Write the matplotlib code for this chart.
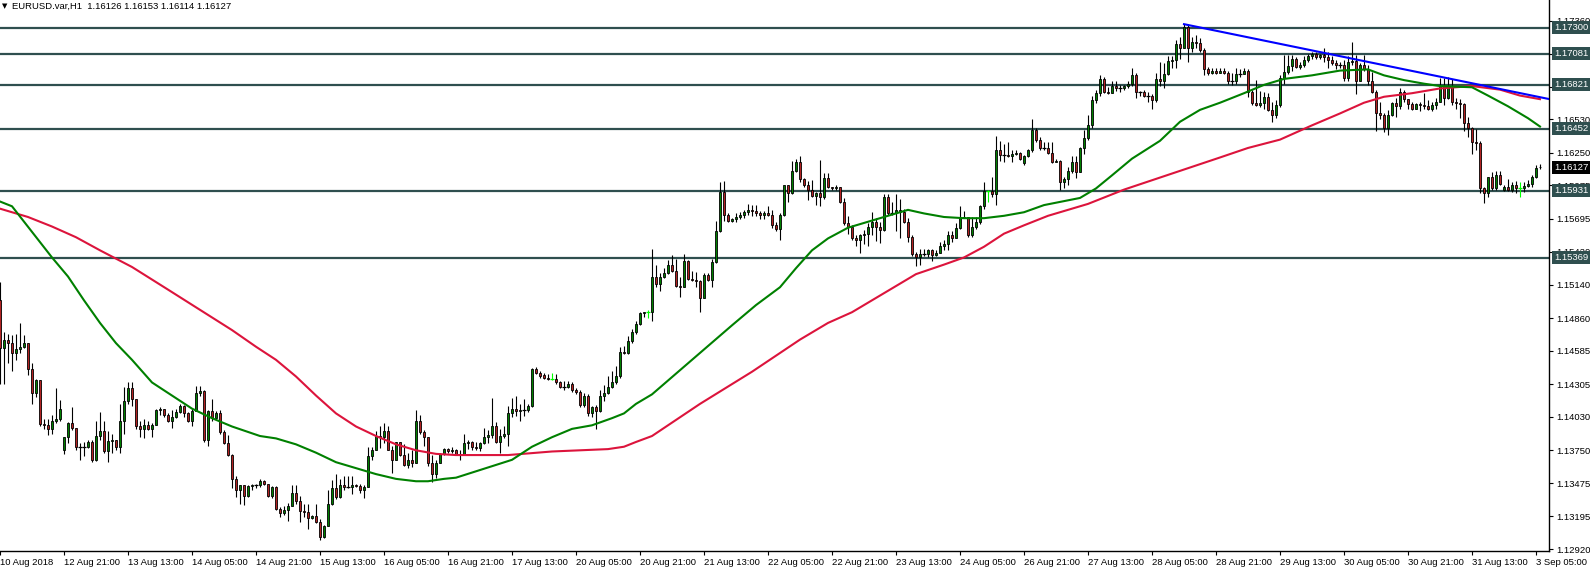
import numpy as np
import matplotlib.pyplot as plt
from matplotlib.transforms import blended_transform_factory

plt.rcParams['font.family'] = ['Liberation Sans', 'DejaVu Sans']

# EURUSD H1 свечи (k = номер бара слева направо)
closes = [
    1.1461, 1.1468, 1.1465, 1.1457, 1.1460, 1.1462, 1.1465, 1.1443, 1.1423, 1.1434,
    1.1397, 1.1396, 1.1393, 1.1400, 1.1401, 1.1410, 1.1386, 1.1398, 1.1394, 1.1378,
    1.1378, 1.1378, 1.1382, 1.1367, 1.1387, 1.1391, 1.1374, 1.1383, 1.1384, 1.1378,
    1.1400, 1.1416, 1.1427, 1.1418, 1.1395, 1.1393, 1.1396, 1.1393, 1.1396, 1.1409,
    1.1410, 1.1405, 1.1400, 1.1403, 1.1407, 1.1412, 1.1406, 1.1400, 1.1408, 1.1423,
    1.1425, 1.1384, 1.1408, 1.1402, 1.1406, 1.1390, 1.1381, 1.1371, 1.1351, 1.1342,
    1.1346, 1.1337, 1.1345, 1.1346, 1.1346, 1.1349, 1.1347, 1.1337, 1.1344, 1.1326,
    1.1322, 1.1325, 1.1328, 1.1339, 1.1332, 1.1324, 1.1323, 1.1318, 1.1320, 1.1315,
    1.1302, 1.1311, 1.1330, 1.1343, 1.1336, 1.1346, 1.1344, 1.1344, 1.1346, 1.1345,
    1.1342, 1.1344, 1.1370, 1.1375, 1.1387, 1.1386, 1.1391, 1.1375, 1.1367, 1.1382,
    1.1371, 1.1363, 1.1367, 1.1364, 1.1400, 1.1390, 1.1386, 1.1364, 1.1355, 1.1364,
    1.1372, 1.1376, 1.1374, 1.1375, 1.1372, 1.1371, 1.1381, 1.1382, 1.1378, 1.1377,
    1.1381, 1.1386, 1.1388, 1.1395, 1.1382, 1.1387, 1.1389, 1.1406, 1.1410, 1.1408,
    1.1409, 1.1409, 1.1412, 1.1443, 1.1440, 1.1437, 1.1436, 1.1435, 1.1435, 1.1432,
    1.1428, 1.1428, 1.1431, 1.1426, 1.1424, 1.1413, 1.1421, 1.1406, 1.1411, 1.1408,
    1.1421, 1.1423, 1.1428, 1.1432, 1.1437, 1.1458, 1.1457, 1.1467, 1.1474, 1.1481,
    1.1490, 1.1491, 1.1491, 1.1521, 1.1515, 1.1521, 1.1524, 1.1531, 1.1526, 1.1513,
    1.1512, 1.1534, 1.1519, 1.1518, 1.1517, 1.1503, 1.1522, 1.1518, 1.1533, 1.1559,
    1.1592, 1.1573, 1.1568, 1.1569, 1.1571, 1.1573, 1.1575, 1.1577, 1.1576, 1.1574,
    1.1573, 1.1574, 1.1573, 1.1564, 1.1561, 1.1573, 1.1598, 1.1591, 1.1610, 1.1617,
    1.1603, 1.1598, 1.1594, 1.1589, 1.1591, 1.1588, 1.1604, 1.1596, 1.1595, 1.1596,
    1.1584, 1.1566, 1.1563, 1.1553, 1.1552, 1.1556, 1.1557, 1.1563, 1.1567, 1.1563,
    1.1560, 1.1588, 1.1574, 1.1574, 1.1577, 1.1575, 1.1567, 1.1554, 1.1540, 1.1537,
    1.1540, 1.1540, 1.1543, 1.1539, 1.1541, 1.1547, 1.1548, 1.1556, 1.1553, 1.1562,
    1.1570, 1.1571, 1.1556, 1.1563, 1.1567, 1.1580, 1.1593, 1.1593, 1.1590, 1.1627,
    1.1623, 1.1623, 1.1622, 1.1624, 1.1625, 1.1620, 1.1622, 1.1627, 1.1644, 1.1636,
    1.1629, 1.1629, 1.1625, 1.1617, 1.1618, 1.1600, 1.1603, 1.1610, 1.1617, 1.1609,
    1.1629, 1.1637, 1.1648, 1.1669, 1.1675, 1.1687, 1.1676, 1.1675, 1.1681, 1.1679,
    1.1679, 1.1681, 1.1683, 1.1690, 1.1676, 1.1676, 1.1673, 1.1673, 1.1669, 1.1687,
    1.1685, 1.1691, 1.1702, 1.1703, 1.1716, 1.1713, 1.1731, 1.1713, 1.1718, 1.1717,
    1.1711, 1.1695, 1.1692, 1.1694, 1.1692, 1.1694, 1.1692, 1.1685, 1.1685, 1.1691,
    1.1691, 1.1694, 1.1676, 1.1667, 1.1665, 1.1667, 1.1672, 1.1661, 1.1657, 1.1665,
    1.1688, 1.1693, 1.1698, 1.1704, 1.1697, 1.1699, 1.1703, 1.1706, 1.1708, 1.1705,
    1.1707, 1.1705, 1.1703, 1.1700, 1.1699, 1.1699, 1.1688, 1.1701, 1.1702, 1.1685,
    1.1699, 1.1695, 1.1685, 1.1676, 1.1658, 1.1657, 1.1646, 1.1657, 1.1667, 1.1664,
    1.1676, 1.1670, 1.1666, 1.1662, 1.1666, 1.1665, 1.1664, 1.1662, 1.1665, 1.1668,
    1.1681, 1.1671, 1.1681, 1.1668, 1.1667, 1.1666, 1.1650, 1.1646, 1.1634, 1.1633,
    1.1595, 1.1591, 1.1605, 1.1595, 1.1606, 1.1599, 1.1596, 1.1594, 1.1598, 1.1595,
    1.1595, 1.1597, 1.1599, 1.1605, 1.1612, 1.16127,
]
highs = [
    1.1516, 1.1474, 1.1473, 1.1472, 1.1473, 1.1482, 1.1472, 1.1464, 1.1448, 1.1435,
    1.1434, 1.1401, 1.1401, 1.1405, 1.1427, 1.1417, 1.1386, 1.1399, 1.1411, 1.1394,
    1.1381, 1.1382, 1.1384, 1.1384, 1.1400, 1.1407, 1.1400, 1.1391, 1.1389, 1.1384,
    1.1414, 1.1428, 1.1432, 1.1432, 1.1418, 1.1400, 1.1401, 1.1400, 1.1398, 1.1410,
    1.1411, 1.1406, 1.1406, 1.1409, 1.1410, 1.1414, 1.1413, 1.1407, 1.1410, 1.1429,
    1.1429, 1.1426, 1.1409, 1.1418, 1.1408, 1.1409, 1.1392, 1.1388, 1.1372, 1.1353,
    1.1346, 1.1346, 1.1346, 1.1347, 1.1347, 1.1351, 1.1350, 1.1347, 1.1345, 1.1345,
    1.1327, 1.1328, 1.1331, 1.1346, 1.1346, 1.1337, 1.1330, 1.1330, 1.1321, 1.1330,
    1.1317, 1.1312, 1.1342, 1.1350, 1.1355, 1.1351, 1.1353, 1.1353, 1.1353, 1.1347,
    1.1347, 1.1346, 1.1378, 1.1378, 1.1391, 1.1395, 1.1398, 1.1395, 1.1379, 1.1382,
    1.1382, 1.1380, 1.1373, 1.1375, 1.1409, 1.1405, 1.1392, 1.1386, 1.1371, 1.1367,
    1.1373, 1.1377, 1.1377, 1.1378, 1.1376, 1.1375, 1.1389, 1.1384, 1.1383, 1.1382,
    1.1382, 1.1394, 1.1392, 1.1419, 1.1399, 1.1393, 1.1395, 1.1412, 1.1419, 1.1421,
    1.1414, 1.1418, 1.1414, 1.1444, 1.1445, 1.1442, 1.1440, 1.1439, 1.1440, 1.1439,
    1.1433, 1.1433, 1.1433, 1.1432, 1.1427, 1.1426, 1.1423, 1.1422, 1.1412, 1.1413,
    1.1426, 1.1430, 1.1437, 1.1442, 1.1446, 1.1462, 1.1463, 1.1471, 1.1477, 1.1484,
    1.1491, 1.1491, 1.1493, 1.1544, 1.1531, 1.1524, 1.1528, 1.1535, 1.1539, 1.1536,
    1.1521, 1.1540, 1.1535, 1.1526, 1.1525, 1.1518, 1.1524, 1.1524, 1.1536, 1.1568,
    1.1600, 1.1601, 1.1574, 1.1570, 1.1574, 1.1575, 1.1577, 1.1582, 1.1581, 1.1581,
    1.1576, 1.1576, 1.1580, 1.1577, 1.1567, 1.1574, 1.1598, 1.1598, 1.1618, 1.1620,
    1.1622, 1.1604, 1.1601, 1.1602, 1.1592, 1.1619, 1.1608, 1.1608, 1.1596, 1.1598,
    1.1596, 1.1587, 1.1572, 1.1564, 1.1556, 1.1557, 1.1560, 1.1566, 1.1575, 1.1570,
    1.1567, 1.1590, 1.1590, 1.1584, 1.1590, 1.1586, 1.1578, 1.1570, 1.1556, 1.1542,
    1.1544, 1.1544, 1.1544, 1.1544, 1.1543, 1.1550, 1.1552, 1.1559, 1.1559, 1.1566,
    1.1580, 1.1576, 1.1571, 1.1571, 1.1571, 1.1581, 1.1600, 1.1594, 1.1605, 1.1639,
    1.1635, 1.1632, 1.1634, 1.1627, 1.1627, 1.1626, 1.1623, 1.1628, 1.1653, 1.1646,
    1.1638, 1.1634, 1.1634, 1.1634, 1.1620, 1.1619, 1.1605, 1.1613, 1.1622, 1.1622,
    1.1630, 1.1644, 1.1657, 1.1673, 1.1678, 1.1690, 1.1689, 1.1680, 1.1685, 1.1685,
    1.1682, 1.1682, 1.1685, 1.1696, 1.1692, 1.1677, 1.1678, 1.1676, 1.1674, 1.1692,
    1.1701, 1.1700, 1.1706, 1.1706, 1.1720, 1.1722, 1.1733, 1.1733, 1.1722, 1.1724,
    1.1721, 1.1713, 1.1697, 1.1696, 1.1696, 1.1696, 1.1696, 1.1694, 1.1692, 1.1696,
    1.1695, 1.1696, 1.1695, 1.1678, 1.1686, 1.1677, 1.1676, 1.1675, 1.1668, 1.1669,
    1.1690, 1.1707, 1.1707, 1.1707, 1.1705, 1.1701, 1.1706, 1.1708, 1.1710, 1.1710,
    1.1708, 1.1713, 1.1710, 1.1706, 1.1703, 1.1701, 1.1703, 1.1706, 1.1718, 1.1707,
    1.1700, 1.1707, 1.1699, 1.1693, 1.1678, 1.1668, 1.1658, 1.1661, 1.1668, 1.1671,
    1.1679, 1.1678, 1.1668, 1.1668, 1.1667, 1.1668, 1.1675, 1.1669, 1.1668, 1.1671,
    1.1688, 1.1688, 1.1689, 1.1687, 1.1671, 1.1670, 1.1667, 1.1655, 1.1647, 1.1645,
    1.1635, 1.1596, 1.1605, 1.1609, 1.1610, 1.1610, 1.1598, 1.1603, 1.1600, 1.1601,
    1.1600, 1.1600, 1.1602, 1.1606, 1.1615, 1.16153,
]
lows = [
    1.1431, 1.1431, 1.1448, 1.1442, 1.1451, 1.1457, 1.1461, 1.1438, 1.1414, 1.1420,
    1.1395, 1.1393, 1.1388, 1.1389, 1.1398, 1.1400, 1.1372, 1.1381, 1.1392, 1.1375,
    1.1367, 1.1370, 1.1377, 1.1365, 1.1366, 1.1384, 1.1373, 1.1365, 1.1373, 1.1375,
    1.1373, 1.1389, 1.1414, 1.1412, 1.1393, 1.1386, 1.1385, 1.1392, 1.1386, 1.1396,
    1.1405, 1.1403, 1.1399, 1.1394, 1.1402, 1.1406, 1.1403, 1.1399, 1.1395, 1.1408,
    1.1421, 1.1382, 1.1379, 1.1400, 1.1403, 1.1389, 1.1380, 1.1370, 1.1343, 1.1336,
    1.1330, 1.1329, 1.1336, 1.1342, 1.1343, 1.1344, 1.1346, 1.1336, 1.1335, 1.1325,
    1.1319, 1.1321, 1.1316, 1.1328, 1.1330, 1.1315, 1.1319, 1.1309, 1.1317, 1.1314,
    1.1300, 1.1301, 1.1311, 1.1329, 1.1334, 1.1335, 1.1342, 1.1343, 1.1338, 1.1344,
    1.1339, 1.1335, 1.1344, 1.1367, 1.1375, 1.1377, 1.1381, 1.1375, 1.1356, 1.1367,
    1.1370, 1.1362, 1.1360, 1.1361, 1.1364, 1.1389, 1.1379, 1.1362, 1.1348, 1.1352,
    1.1364, 1.1371, 1.1373, 1.1373, 1.1371, 1.1367, 1.1371, 1.1376, 1.1375, 1.1375,
    1.1374, 1.1380, 1.1381, 1.1385, 1.1381, 1.1373, 1.1385, 1.1379, 1.1403, 1.1404,
    1.1400, 1.1404, 1.1407, 1.1411, 1.1439, 1.1436, 1.1435, 1.1434, 1.1434, 1.1431,
    1.1427, 1.1426, 1.1427, 1.1424, 1.1422, 1.1411, 1.1411, 1.1404, 1.1403, 1.1393,
    1.1407, 1.1416, 1.1422, 1.1427, 1.1431, 1.1436, 1.1456, 1.1456, 1.1465, 1.1473,
    1.1480, 1.1487, 1.1486, 1.1484, 1.1512, 1.1509, 1.1520, 1.1523, 1.1525, 1.1512,
    1.1504, 1.1512, 1.1518, 1.1517, 1.1512, 1.1491, 1.1503, 1.1517, 1.1512, 1.1532,
    1.1558, 1.1568, 1.1567, 1.1567, 1.1567, 1.1569, 1.1570, 1.1573, 1.1572, 1.1572,
    1.1569, 1.1569, 1.1572, 1.1562, 1.1559, 1.1552, 1.1572, 1.1584, 1.1590, 1.1609,
    1.1600, 1.1596, 1.1585, 1.1588, 1.1581, 1.1580, 1.1586, 1.1595, 1.1594, 1.1594,
    1.1583, 1.1564, 1.1557, 1.1552, 1.1547, 1.1541, 1.1548, 1.1547, 1.1556, 1.1551,
    1.1549, 1.1559, 1.1573, 1.1573, 1.1559, 1.1553, 1.1566, 1.1550, 1.1538, 1.1530,
    1.1531, 1.1538, 1.1537, 1.1534, 1.1538, 1.1541, 1.1543, 1.1543, 1.1550, 1.1553,
    1.1561, 1.1570, 1.1554, 1.1554, 1.1561, 1.1565, 1.1578, 1.1584, 1.1588, 1.1581,
    1.1618, 1.1617, 1.1621, 1.1617, 1.1623, 1.1619, 1.1615, 1.1621, 1.1626, 1.1634,
    1.1627, 1.1627, 1.1624, 1.1616, 1.1617, 1.1594, 1.1595, 1.1598, 1.1608, 1.1604,
    1.1609, 1.1624, 1.1636, 1.1646, 1.1667, 1.1673, 1.1675, 1.1674, 1.1676, 1.1677,
    1.1676, 1.1678, 1.1679, 1.1681, 1.1671, 1.1673, 1.1672, 1.1668, 1.1662, 1.1668,
    1.1681, 1.1679, 1.1690, 1.1696, 1.1696, 1.1704, 1.1713, 1.1701, 1.1710, 1.1713,
    1.1710, 1.1690, 1.1690, 1.1691, 1.1691, 1.1692, 1.1691, 1.1683, 1.1682, 1.1683,
    1.1689, 1.1691, 1.1672, 1.1665, 1.1664, 1.1663, 1.1662, 1.1660, 1.1651, 1.1654,
    1.1663, 1.1683, 1.1691, 1.1694, 1.1696, 1.1695, 1.1697, 1.1701, 1.1704, 1.1704,
    1.1704, 1.1701, 1.1696, 1.1699, 1.1695, 1.1696, 1.1685, 1.1685, 1.1699, 1.1674,
    1.1685, 1.1694, 1.1682, 1.1675, 1.1643, 1.1653, 1.1642, 1.1640, 1.1656, 1.1655,
    1.1662, 1.1668, 1.1662, 1.1661, 1.1662, 1.1660, 1.1662, 1.1661, 1.1660, 1.1662,
    1.1668, 1.1665, 1.1670, 1.1665, 1.1662, 1.1654, 1.1643, 1.1638, 1.1624, 1.1627,
    1.1591, 1.1583, 1.1588, 1.1594, 1.1594, 1.1598, 1.1593, 1.1593, 1.1592, 1.1591,
    1.1588, 1.1592, 1.1596, 1.1596, 1.1604, 1.16114,
]
first_open = 1.1501
# open != previous close (weekend gaps, last bar from the header)
open_fix = {16: 1.1375, 136: 1.1438, 256: 1.1616, 376: 1.1594, 385: 1.16126}
cross_bars = [138, 162, 247, 380]  # open == close, drawn in lime

# moving averages, read at these bars
ma_fast_idx = [0, 3, 13, 17, 21, 25, 29, 33, 38, 43, 48, 53, 58, 65, 69, 74, 79, 84, 89, 94,
               99, 104, 107, 111, 114, 128, 133, 138, 143, 148, 153, 156, 159, 163, 173, 183,
               189, 195, 199, 203, 207, 212, 216, 221, 227, 231, 236, 241, 246, 251, 256, 261,
               270, 274, 278, 283, 290, 295, 300, 305, 311, 316, 321, 328, 335, 342, 346, 351,
               356, 360, 368, 372, 377, 382, 385]
ma_fast = [1.1584, 1.1580, 1.1537, 1.1521, 1.1501, 1.1482, 1.1465, 1.1451, 1.1432, 1.1421,
           1.1410, 1.1402, 1.1395, 1.1387, 1.1385, 1.1380, 1.1373, 1.1365, 1.1360, 1.1355,
           1.1351, 1.1349, 1.1349, 1.1351, 1.1352, 1.1367, 1.1378, 1.1386, 1.1393, 1.1396,
           1.1402, 1.1406, 1.1414, 1.1422, 1.1451, 1.1480, 1.1497, 1.1512, 1.1528, 1.1543,
           1.1553, 1.1562, 1.1566, 1.1571, 1.1577, 1.1574, 1.1571, 1.1570, 1.1570, 1.1572,
           1.1575, 1.1581, 1.1587, 1.1595, 1.1606, 1.1620, 1.1635, 1.1651, 1.1661, 1.1667,
           1.1675, 1.1682, 1.1687, 1.1690, 1.1694, 1.1695, 1.1690, 1.1686, 1.1683, 1.1681,
           1.1680, 1.1673, 1.1664, 1.1654, 1.1647]
ma_slow_idx = [0, 7, 13, 19, 25, 33, 42, 50, 58, 64, 69, 74, 79, 84, 89, 94, 99, 104, 109, 114,
               127, 138, 152, 156, 159, 163, 175, 188, 200, 207, 213, 229, 236, 241, 246, 251,
               256, 262, 272, 281, 289, 297, 305, 312, 320, 328, 335, 341, 346, 353, 360, 368,
               375, 380, 385]
ma_slow = [1.1578, 1.1571, 1.1563, 1.1554, 1.1543, 1.1529, 1.1510, 1.1493, 1.1476, 1.1462,
           1.1451, 1.1437, 1.1421, 1.1406, 1.1395, 1.1387, 1.1380, 1.1375, 1.1372, 1.1371,
           1.1371, 1.1374, 1.1376, 1.1378, 1.1382, 1.1387, 1.1414, 1.1441, 1.1468, 1.1482,
           1.1491, 1.1523, 1.1531, 1.1537, 1.1546, 1.1557, 1.1564, 1.1572, 1.1582, 1.1594,
           1.1603, 1.1612, 1.1621, 1.1629, 1.1636, 1.1648, 1.1658, 1.1667, 1.1672, 1.1675,
           1.1679, 1.1681, 1.1678, 1.1673, 1.1670]

trend_idx = [296, 387.4]
trend_val = [1.1733, 1.1670]

levels = [1.17300, 1.17081, 1.16821, 1.16452, 1.15931, 1.15369]
last_price = 1.16127

y_ticks = [1.12920, 1.13195, 1.13475, 1.13750, 1.14030, 1.14305, 1.14585, 1.14860, 1.15140,
           1.15420, 1.15695, 1.15975, 1.16250, 1.16530, 1.16805, 1.17080, 1.17360]
date_idx = list(range(0, 385, 16))
date_labels = ['10 Aug 2018', '12 Aug 21:00', '13 Aug 13:00', '14 Aug 05:00', '14 Aug 21:00',
               '15 Aug 13:00', '16 Aug 05:00', '16 Aug 21:00', '17 Aug 13:00', '20 Aug 05:00',
               '20 Aug 21:00', '21 Aug 13:00', '22 Aug 05:00', '22 Aug 21:00', '23 Aug 13:00',
               '24 Aug 05:00', '26 Aug 21:00', '27 Aug 13:00', '28 Aug 05:00', '28 Aug 21:00',
               '29 Aug 13:00', '30 Aug 05:00', '30 Aug 21:00', '31 Aug 13:00', '3 Sep 05:00']

FS = 6.8
UP, DOWN = '#008000', '#B22222'
LEVEL = '#2F4F4F'

c = np.array(closes)
o = np.r_[first_open, c[:-1]]
for k, v in open_fix.items():
    o[k] = v
h = np.maximum(np.array(highs), np.maximum(o, c))
l = np.minimum(np.array(lows), np.minimum(o, c))
idx = np.arange(len(c))

fig = plt.figure(figsize=(15.9, 5.7), dpi=100)
ax = fig.add_axes([0, 19 / 570, 1549 / 1590, 551 / 570])
ax.set_xlim(0.0, 387.25)
ax.set_ylim(1.12904, 1.17533)

for lv in levels:
    ax.axhline(lv, color=LEVEL, lw=1.6, zorder=2)

cross = np.zeros(len(c), bool)
cross[cross_bars] = True
flat = (np.abs(c - o) < 1e-6) & ~cross
body = ~cross & ~flat

ax.vlines(idx[~cross], l[~cross], h[~cross], color='black', lw=0.8, zorder=3)
up = body & (c > o)
dn = body & (c < o)
ax.bar(idx[up], (c - o)[up], bottom=o[up], width=0.6, color=UP, edgecolor='black', lw=0.6, zorder=4)
ax.bar(idx[dn], (o - c)[dn], bottom=c[dn], width=0.6, color=DOWN, edgecolor='black', lw=0.6, zorder=4)
ax.hlines(c[flat], idx[flat] - 0.4, idx[flat] + 0.4, color='black', lw=0.9, zorder=4)
ax.vlines(idx[cross], l[cross], h[cross], color='#00FF00', lw=0.8, zorder=4)
ax.hlines(c[cross], idx[cross] - 0.4, idx[cross] + 0.4, color='#00FF00', lw=0.9, zorder=4)

ax.plot(ma_slow_idx, ma_slow, color='#DC143C', lw=1.5, zorder=5)
ax.plot(ma_fast_idx, ma_fast, color='#008000', lw=1.5, zorder=5)
ax.plot(trend_idx, trend_val, color='#0000FF', lw=1.5, zorder=6)

# axes look
for s in ['left', 'top']:
    ax.spines[s].set_visible(False)
for s in ['right', 'bottom']:
    ax.spines[s].set_linewidth(1.0)
ax.yaxis.tick_right()
ax.set_yticks(y_ticks)
ax.set_yticklabels([f'{v:.5f}' for v in y_ticks])
ax.set_xticks(date_idx)
ax.set_xticklabels(date_labels, ha='left')
ax.tick_params(axis='both', labelsize=FS, length=3, width=0.8, pad=2, direction='out')

trans = blended_transform_factory(ax.transAxes, ax.transData)
box_x = 1.0 + 5 / 1549
for lv in levels:
    ax.text(box_x, lv, f'{lv:.5f}', transform=trans, ha='left', va='center', fontsize=FS,
            color='white', clip_on=False, zorder=10,
            bbox=dict(boxstyle='square,pad=0.2', fc=LEVEL, ec='none'))
ax.text(box_x, last_price, f'{last_price:.5f}', transform=trans, ha='left', va='center',
        fontsize=FS, color='white', clip_on=False, zorder=10,
        bbox=dict(boxstyle='square,pad=0.2', fc='black', ec='none'))

fig.text(2 / 1590, 1 - 6 / 570, '\u25bc', fontsize=5, va='center', family='DejaVu Sans')
fig.text(12 / 1590, 1 - 6 / 570, 'EURUSD.var,H1  1.16126 1.16153 1.16114 1.16127',
         fontsize=FS, va='center')

fig.savefig('out.png', dpi=100)
